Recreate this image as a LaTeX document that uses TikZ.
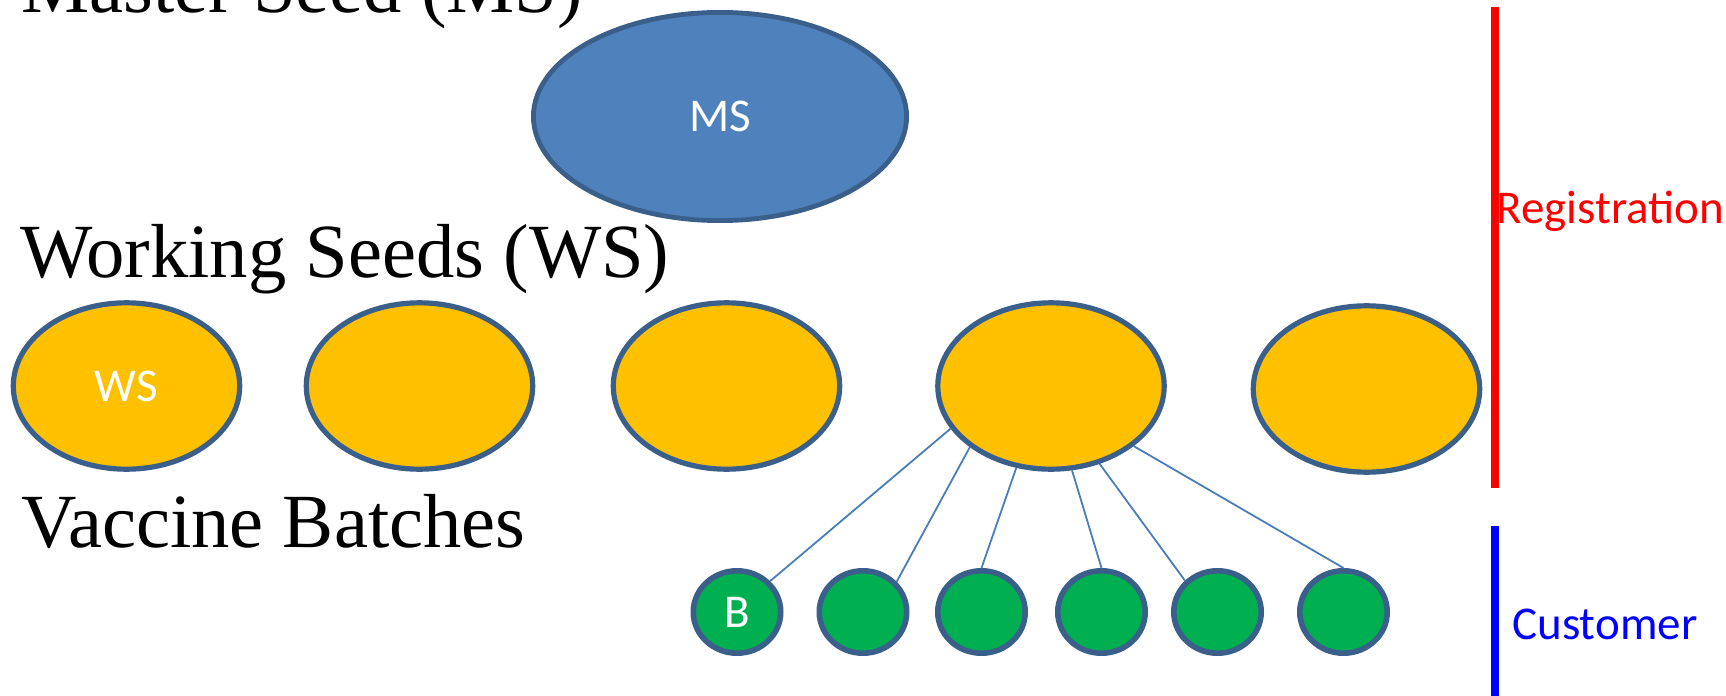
\documentclass[tikz,border=0pt]{standalone}
\usepackage{fontspec}
\setmainfont{Liberation Serif}
\newfontfamily\calibri{Carlito}
\usetikzlibrary{shapes.geometric}
\definecolor{msfill}{HTML}{4F81BD}
\definecolor{edgeblue}{HTML}{3A5F8B}
\definecolor{wsfill}{HTML}{FFC000}
\definecolor{bfill}{HTML}{00B050}
\definecolor{linkblue}{HTML}{4A7EBB}
\begin{document}
\begin{tikzpicture}[x=0.5pt,y=-0.5pt,
  heading/.style={anchor=base west, inner sep=0pt, font=\fontsize{38.3}{46}\selectfont},
  msnode/.style={ellipse, draw=edgeblue, line width=2.4pt, fill=msfill, minimum width=186.6pt, minimum height=104.1pt, inner sep=0pt, text=white, font=\calibri\fontsize{23.5}{28}\selectfont},
  wsnode/.style={ellipse, draw=edgeblue, line width=2.6pt, fill=wsfill, minimum width=113.2pt, minimum height=83.2pt, inner sep=0pt, text=white, font=\calibri\fontsize{23.5}{28}\selectfont},
  bnode/.style={ellipse, draw=edgeblue, line width=2.8pt, fill=bfill, minimum width=43.7pt, minimum height=41.2pt, inner sep=0pt, text=white, font=\calibri\fontsize{23.5}{28}\selectfont},
  connector/.style={draw=linkblue, line width=0.9pt},
  sidebar/.style={line width=4pt},
  sidelabel/.style={anchor=base west, inner sep=0pt, font=\calibri\fontsize{23.5}{28}\selectfont}
]
\clip (0,0) rectangle (1726,696);
\fill[white] (0,0) rectangle (1726,696);

% headings
\node[heading] (hms) at (21,12) {Master Seed (MS)};
\node[heading] (hws) at (20,277) {Working Seeds (WS)};
\node[heading] (hvb) at (21,547) {Vaccine Batches};

% master seed
\node[msnode] (ms) at (720,116.5) {MS};

% working seeds
\node[wsnode] (ws1) at (126.5,386) {WS};
\node[wsnode] (ws2) at (419.5,386) {};
\node[wsnode] (ws3) at (726.5,386) {};
\node[wsnode] (ws4) at (1051,386) {};
\node[wsnode] (ws5) at (1366.5,389) {};

% batches
\node[bnode] (b1) at (737,612) {B};
\node[bnode] (b2) at (863,612) {};
\node[bnode] (b3) at (981.5,612) {};
\node[bnode] (b4) at (1101.5,612) {};
\node[bnode] (b5) at (1217.5,612) {};
\node[bnode] (b6) at (1343.5,612) {};

% connectors
\draw[connector] (ws4.203) -- (b1.43);
\draw[connector] (ws4.217) -- (b2.42);
\draw[connector] (ws4.247) -- (b3.90);
\draw[connector] (ws4.284) -- (b4.90);
\draw[connector] (ws4.302) -- (b5.136);
\draw[connector] (ws4.324) -- (b6.90);

% side bars
\coordinate (regtop) at (1495,7);
\coordinate (regbot) at (1495,488);
\coordinate (custop) at (1495,526);
\coordinate (cusbot) at (1495,700);
\draw[sidebar, red] (regtop) -- (regbot);
\draw[sidebar, blue] (custop) -- (cusbot);
\node[sidelabel, text=red] (reg) at (1496,223) {Registration};
\node[sidelabel, text=blue] (cus) at (1512,639) {Customer};
\end{tikzpicture}
\end{document}
